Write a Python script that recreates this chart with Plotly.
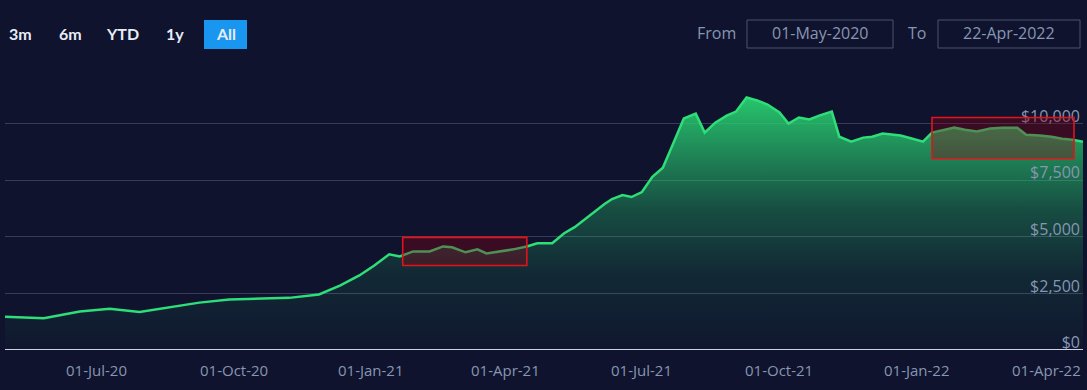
import datetime as dt
import plotly.graph_objects as go

# ---------------- data ----------------
dates = [
    "2020-05-01", "2020-05-27", "2020-06-20", "2020-07-10", "2020-07-30", "2020-08-19",
    "2020-09-08", "2020-09-28", "2020-10-18", "2020-11-07", "2020-11-27", "2020-12-11",
    "2020-12-24", "2021-01-03", "2021-01-13", "2021-01-20", "2021-01-29", "2021-02-09",
    "2021-02-18", "2021-02-24", "2021-03-05", "2021-03-13", "2021-03-19", "2021-03-28",
    "2021-04-06", "2021-04-15", "2021-04-22", "2021-05-02", "2021-05-10", "2021-05-17",
    "2021-05-27", "2021-06-06", "2021-06-11", "2021-06-18", "2021-06-24", "2021-07-01",
    "2021-07-08", "2021-07-15", "2021-07-21", "2021-07-29", "2021-08-06", "2021-08-12",
    "2021-08-19", "2021-08-27", "2021-09-02", "2021-09-09", "2021-09-16", "2021-09-23",
    "2021-10-01", "2021-10-07", "2021-10-14", "2021-10-21", "2021-10-28", "2021-11-05",
    "2021-11-10", "2021-11-18", "2021-11-26", "2021-12-02", "2021-12-09", "2021-12-16",
    "2021-12-21", "2021-12-29", "2022-01-05", "2022-01-11", "2022-01-18", "2022-01-26",
    "2022-02-02", "2022-02-10", "2022-02-19", "2022-02-27", "2022-03-09", "2022-03-15",
    "2022-03-24", "2022-04-01", "2022-04-08", "2022-04-15", "2022-04-22",
]
values = [
    1465, 1400, 1700, 1820, 1680, 1900,
    2090, 2230, 2250, 2300, 2450, 2840,
    3290, 3730, 4220, 4130, 4350, 4350,
    4570, 4530, 4310, 4440, 4260, 4350,
    4440, 4570, 4710, 4710, 5150, 5420,
    5950, 6440, 6660, 6840, 6750, 6970,
    7640, 8040, 8970, 10210, 10430, 9590,
    10030, 10350, 10520, 11140, 11010, 10830,
    10480, 9990, 10260, 10170, 10350, 10520,
    9410, 9190, 9370, 9410, 9550, 9500,
    9460, 9320, 9190, 9590, 9680, 9810,
    9720, 9640, 9770, 9810, 9810, 9500,
    9460, 9410, 9320, 9280, 9190,
]

y_ticks = [0, 2500, 5000, 7500, 10000, 12500]
y_tick_text = ["$0", "$2,500", "$5,000", "$7,500", "$10,000", ""]
x_ticks = ["2020-07-01", "2020-10-01", "2021-01-01", "2021-04-01",
           "2021-07-01", "2021-10-01", "2022-01-01", "2022-04-01"]

# highlighted regions (date range, value range)
highlight_x = [("2021-01-22", "2021-04-15"), ("2022-01-11", "2022-04-16")]
highlight_y = [(3730, 4970), (8440, 10260)]

range_buttons = ["3m", "6m", "YTD", "1y", "All"]
from_date = "01-May-2020"
to_date = "22-Apr-2022"

# ---------------- style ----------------
BG = "#0f132d"
GRID = "rgba(120,130,165,0.38)"
TXT = "rgb(135,150,178)"
W, H = 1087, 390
ML, MR, MT, MB = 5, 4, 66, 40
PW, PH = W - ML - MR, H - MT - MB
X_START, X_END = "2020-05-01", "2022-04-22"


def px(xp):
    return (xp - ML) / PW


def py(yp):
    return (H - MB - yp) / PH


fig = go.Figure()
fig.add_trace(go.Scatter(
    x=dates, y=values, mode="lines",
    line=dict(color="rgb(46,222,120)", width=2.5),
    fill="tozeroy",
    fillgradient=dict(
        type="vertical", start=0, stop=11200,
        colorscale=[[0, "rgba(40,200,110,0.02)"],
                    [0.3, "rgba(40,200,110,0.12)"],
                    [0.55, "rgba(40,200,110,0.32)"],
                    [0.75, "rgba(40,200,110,0.60)"],
                    [1, "rgba(40,208,112,0.95)"]],
    ),
    hoverinfo="skip",
))

shapes = []
for (x0, x1), (y0, y1) in zip(highlight_x, highlight_y):
    shapes.append(dict(type="rect", xref="x", yref="y", x0=x0, x1=x1, y0=y0, y1=y1,
                       line=dict(color="rgb(225,20,25)", width=1.6),
                       fillcolor="rgba(140,0,20,0.35)", layer="above"))

# baseline
shapes.append(dict(type="line", xref="paper", yref="y", x0=0, x1=1, y0=0, y1=0,
                   line=dict(color="rgb(205,210,225)", width=2), layer="above"))

annotations = []

# x-axis labels (last one kept inside the plot edge, like the original)
d_end = dt.date.fromisoformat(X_END)
for t in x_ticks:
    d = dt.date.fromisoformat(t)
    label = d.strftime("%d-%b-%y")
    near_end = (d_end - d).days < 25
    annotations.append(dict(
        x=1 if near_end else t, xref="paper" if near_end else "x",
        y=py(370), yref="paper", text=label, showarrow=False,
        xanchor="right" if near_end else "center", yanchor="middle",
        font=dict(family="Open Sans", size=15, color=TXT)))

btn_x = [20, 70, 122, 175, 226]
for label, bx in zip(range_buttons, btn_x):
    if label == "All":
        shapes.append(dict(type="rect", xref="paper", yref="paper",
                           x0=px(204), x1=px(247), y0=py(49), y1=py(20),
                           fillcolor="rgb(24,150,240)", line=dict(width=0)))
    annotations.append(dict(x=px(bx), y=py(33), xref="paper", yref="paper",
                            text="<b>%s</b>" % label, showarrow=False,
                            font=dict(family="Lato", size=16, color="rgb(232,236,245)"),
                            xanchor="center", yanchor="middle"))

annotations.append(dict(x=px(716), y=py(33), xref="paper", yref="paper", text="From",
                        showarrow=False, font=dict(family="Open Sans", size=16, color=TXT),
                        xanchor="center", yanchor="middle"))
annotations.append(dict(x=px(917), y=py(33), xref="paper", yref="paper", text="To",
                        showarrow=False, font=dict(family="Open Sans", size=16, color=TXT),
                        xanchor="center", yanchor="middle"))
for (bx0, bx1), txt in zip([(747, 893), (938, 1080)], [from_date, to_date]):
    shapes.append(dict(type="rect", xref="paper", yref="paper",
                       x0=px(bx0), x1=px(bx1), y0=py(48), y1=py(20),
                       line=dict(color="rgb(75,85,115)", width=1)))
    annotations.append(dict(x=px((bx0 + bx1) / 2), y=py(33), xref="paper", yref="paper",
                            text=txt, showarrow=False,
                            font=dict(family="Open Sans", size=16, color=TXT),
                            xanchor="center", yanchor="middle"))

fig.update_layout(
    width=W, height=H,
    margin=dict(l=ML, r=MR, t=MT, b=MB),
    paper_bgcolor=BG, plot_bgcolor=BG,
    showlegend=False,
    shapes=shapes, annotations=annotations,
    xaxis=dict(
        type="date", range=[X_START, X_END],
        showticklabels=False,
        showgrid=False, zeroline=False, showline=False, ticks="",
        fixedrange=True,
    ),
    yaxis=dict(
        range=[0, 12530], side="right",
        tickvals=y_ticks, ticktext=y_tick_text,
        ticklabelposition="inside top",
        ticklabelshift=4, ticklabeloverflow="allow",
        showgrid=True, gridcolor=GRID, gridwidth=1,
        zeroline=False, showline=False, ticks="",
        tickfont=dict(family="Open Sans", size=16, color=TXT),
        fixedrange=True,
    ),
)

fig.write_html("out.html", config={"displayModeBar": False})

# remove default page margin so the figure sits at the window origin
with open("out.html", "r", encoding="utf-8") as f:
    html = f.read()
html = html.replace("<head>", "<head><style>html,body{margin:0;padding:0;background:%s;}</style>" % BG, 1)
with open("out.html", "w", encoding="utf-8") as f:
    f.write(html)
